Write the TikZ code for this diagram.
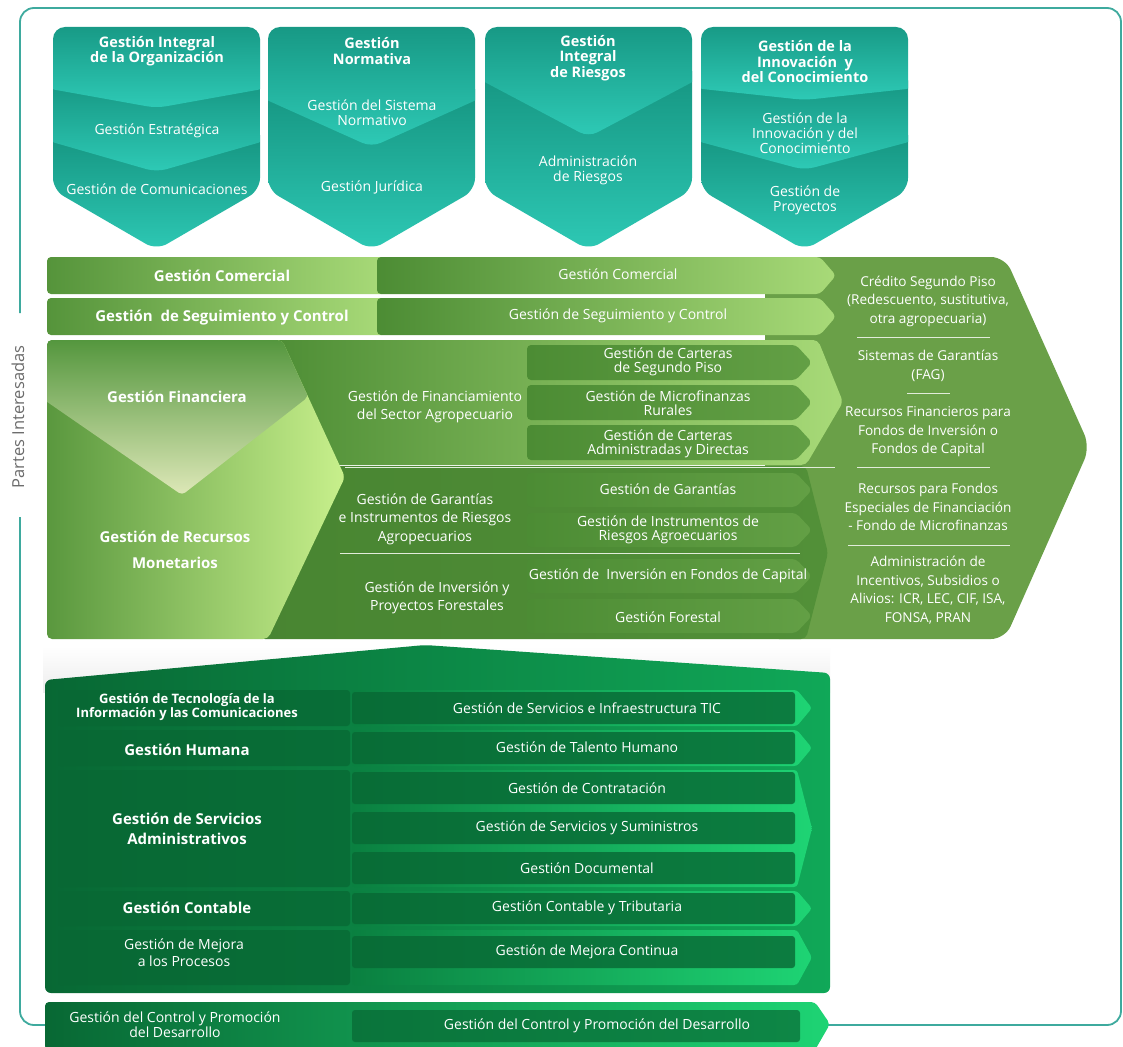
\documentclass[tikz,border=0pt]{standalone}
\usepackage{fontspec}
\setmainfont{Open Sans}
\usetikzlibrary{calc}
\definecolor{tealD}{RGB}{22,150,130}
\definecolor{tealL}{RGB}{46,202,182}
\definecolor{frameC}{RGB}{62,170,158}
\definecolor{gDark}{RGB}{76,140,52}
\definecolor{gLight}{RGB}{168,218,120}
\definecolor{gMid}{RGB}{106,160,72}
\definecolor{gPale}{RGB}{222,232,184}
\definecolor{gLime}{RGB}{200,240,140}
\definecolor{gTop}{RGB}{80,148,58}
\definecolor{sDark}{RGB}{8,104,52}
\definecolor{sBase}{RGB}{10,128,64}
\definecolor{sBright}{RGB}{30,212,116}
\definecolor{sRight}{RGB}{16,168,88}
\newcommand\topbx[2]{%
  \pgfmathsetmacro\xa{#1}\pgfmathsetmacro\xb{#1+207}\pgfmathsetmacro\xm{#1+103.5}%
  \begin{scope}
    \clip[rounded corners=12pt] (\xa,27) -- (\xb,27) -- (\xb,190) -- (\xm,250) -- (\xa,190) -- cycle;
    #2
  \end{scope}}
\newcommand\tbsec[3]{\shade[top color=tealD, bottom color=tealL, rounded corners=10pt] (\xa-8,#1) -- (\xb+8,#1) -- (\xb+8,#2) -- (\xm,#3) -- (\xa-8,#2) -- cycle;}
\newcommand\tbrest[1]{\shade[top color=tealD, bottom color=tealL] (\xa-8,#1) rectangle (\xb+8,255);}
\newcommand\fbx[2]{\shade[left color=gDark, right color=gDark!75!gLight, rounded corners=4pt] (527,#1) -- (796,#1) -- (812,{(#1+#2)/2}) -- (796,#2) -- (527,#2) -- cycle;}
\newcommand\sarrow[2]{\shade[left color=sBase, right color=sBright, rounded corners=3pt] (352,#1) -- (797,#1) -- (812,{(#1+#2)/2}) -- (797,#2) -- (352,#2) -- cycle;}
\newcommand\sdbox[2]{\fill[sDark, opacity=0.8, rounded corners=3pt] (352,#1) rectangle (795,#2);}
\newcommand\slbox[2]{\fill[sDark, opacity=0.75, rounded corners=3pt] (58,#1) rectangle (350,#2);}
\tikzset{
  ttl/.style={text=white, align=center, inner sep=0pt, font=\bfseries\fontsize{14.5}{15.5}\selectfont},
  tsub/.style={text=white, align=center, inner sep=0pt, font=\fontsize{14}{15}\selectfont},
  bl/.style={text=white, align=center, inner sep=0pt, font=\bfseries\fontsize{15}{20}\selectfont},
  rg/.style={text=white, align=center, inner sep=0pt, font=\fontsize{14}{14.5}\selectfont},
  mid/.style={text=white, align=center, inner sep=0pt, font=\fontsize{14}{18.5}\selectfont},
  big/.style={text=white, align=center, inner sep=0pt, font=\fontsize{13.6}{18.5}\selectfont},
  sep/.style={white!80!gMid, line width=0.8pt}
}
\begin{document}
\begin{tikzpicture}[x=1pt,y=-1pt]
\useasboundingbox (0,0) rectangle (1123,1046);
\fill[white] (0,0) rectangle (1123,1046);

% outer frame
\draw[frameC, line width=1.8pt, rounded corners=14pt] (20,517) -- (20,1025) -- (1121,1025) -- (1121,8) -- (20,8) -- (20,313);
\node[rotate=90, text=gray!85!black, inner sep=0pt, font=\fontsize{16.5}{18}\selectfont] (pi) at (18,417) {Partes Interesadas};

% ---------- top boxes ----------
\topbx{53}{\tbrest{135}\tbsec{80}{140}{172}\tbsec{20}{88}{108}}
\topbx{268}{\tbrest{90}\tbsec{20}{97}{147}}
\topbx{485}{\tbrest{72}\tbsec{20}{78}{137}}
\topbx{701}{\tbrest{135}\tbsec{80}{140}{170}\tbsec{20}{88}{100}}

\node[ttl] (t1) at (157,51) {Gestión Integral\\de la Organización};
\node[tsub] (t1a) at (157,131) {Gestión Estratégica};
\node[tsub] (t1b) at (157,189) {Gestión de Comunicaciones};
\node[ttl] (t2) at (372,51) {Gestión\\Normativa};
\node[tsub] (t2a) at (372,113) {Gestión del Sistema\\Normativo};
\node[tsub] (t2b) at (372,187) {Gestión Jurídica};
\node[ttl] (t3) at (588,58) {Gestión\\Integral\\de Riesgos};
\node[tsub] (t3a) at (588,170) {Administración\\de Riesgos};
\node[ttl] (t4) at (805,62) {Gestión de la\\Innovación \ y\\del Conocimiento};
\node[tsub] (t4a) at (805,133) {Gestión de la\\Innovación y del\\Conocimiento};
\node[tsub] (t4b) at (805,200) {Gestión de\\Proyectos};

% ---------- misional block ----------
\fill[gMid, rounded corners=14pt] (765,257) -- (1005,257) -- (1090,447) -- (1005,639) -- (765,639) -- cycle;
\shade[left color=gDark!90!gLight, right color=gLight, rounded corners=4pt] (47,257) rectangle (385,294);
\shade[left color=gDark, right color=gLight, rounded corners=4pt] (377,257) -- (820,257) -- (836,275.5) -- (820,294) -- (377,294) -- cycle;
\shade[left color=gDark!90!gLight, right color=gLight, rounded corners=4pt] (47,298) rectangle (385,335);
\shade[left color=gDark, right color=gLight, rounded corners=4pt] (377,298) -- (820,298) -- (836,316.5) -- (820,335) -- (377,335) -- cycle;
\node[bl] (gc) at (222,276) {Gestión Comercial};
\node[rg] (gcr) at (618,274) {Gestión Comercial};
\node[bl] (gs) at (222,318) {Gestión \ de Seguimiento y Control};
\node[rg] (gsr) at (618,316) {Gestión de Seguimiento y Control};

\shade[left color=gDark!95!black, right color=gDark!80!gMid, rounded corners=5pt] (260,466) -- (806,466) -- (828,553) -- (806,639) -- (260,639) -- cycle;
\shade[left color=gDark, right color=gLight, rounded corners=5pt] (260,340) -- (818,340) -- (843,402) -- (806,465) -- (260,465) -- cycle;
\draw[sep] (345,467) -- (835,467);
\draw[sep] (340,553) -- (800,553);

\shade[left color=gDark!85!gLight, right color=gLime, rounded corners=5pt] (47,340) -- (282,340) -- (345,477) -- (268,639) -- (47,639) -- cycle;
\begin{scope}
\clip[rounded corners=5pt] (47,340) -- (282,340) -- (345,477) -- (268,639) -- (47,639) -- cycle;
\shade[top color=gTop, bottom color=gPale, rounded corners=4pt] (40,335) -- (290,335) -- (308,397) -- (182,495) -- (40,397) -- cycle;
\end{scope}
\node[bl] (gf) at (177,397) {Gestión Financiera};
\node[bl, font=\bfseries\fontsize{15}{26}\selectfont] (grm) at (175,550) {Gestión de Recursos\\Monetarios};

\node[mid] (m1) at (435,407) {Gestión de Financiamiento\\del Sector Agropecuario};
\node[mid] (m2) at (425,519) {Gestión de Garantías\\e Instrumentos de Riesgos\\Agropecuarios};
\node[mid] (m3) at (437,598) {Gestión de Inversión y\\Proyectos Forestales};

\fbx{345}{380}
\fbx{385}{420}
\fbx{425}{460}
\fbx{473}{507}
\fbx{513}{547}
\fbx{559}{593}
\fbx{599}{633}
\node[rg] (f1) at (668,362) {Gestión de Carteras\\de Segundo Piso};
\node[rg] (f2) at (668,403) {Gestión de Microfinanzas\\Rurales};
\node[rg] (f3) at (668,444) {Gestión de Carteras\\Administradas y Directas};
\node[rg] (f4) at (668,489) {Gestión de Garantías};
\node[rg] (f5) at (668,530) {Gestión de Instrumentos de\\Riesgos Agroecuarios};
\node[rg] (f6) at (668,576) {Gestión de \ Inversión en Fondos de Capital};
\node[rg] (f7) at (668,617) {Gestión Forestal};

\node[big] (b1) at (928,301) {Crédito Segundo Piso\\(Redescuento, sustitutiva,\\otra agropecuaria)};
\draw[sep] (857,337) -- (990,337);
\node[big] (b2) at (928,366) {Sistemas de Garantías\\(FAG)};
\draw[sep] (907,393) -- (950,393);
\node[big] (b3) at (928,432) {Recursos Financieros para\\Fondos de Inversión o\\Fondos de Capital};
\draw[sep] (857,467) -- (990,467);
\node[big] (b4) at (928,507) {Recursos para Fondos\\Especiales de Financiación\\- Fondo de Microfinanzas};
\draw[sep] (848,545) -- (1010,545);
\node[big] (b5) at (928,590) {Administración de\\Incentivos, Subsidios o\\Alivios: ICR, LEC, CIF, ISA,\\FONSA, PRAN};

% ---------- support block ----------
\shade[top color=white, bottom color=gray!14] (43,646) rectangle (830,692);
\shade[left color=sDark, right color=sRight, rounded corners=6pt] (45,680) -- (425,645) -- (830,673) -- (830,993) -- (45,993) -- cycle;
\slbox{690}{726}
\slbox{730}{766}
\slbox{770}{887}
\slbox{891}{926}
\slbox{930}{985}
\sarrow{690}{726}
\sarrow{730}{766}
\sarrow{770}{887}
\sarrow{891}{926}
\sarrow{930}{985}
\sdbox{692}{724}
\sdbox{732}{764}
\sdbox{772}{804}
\sdbox{812}{844}
\sdbox{852}{884}
\sdbox{893}{924}
\sdbox{936}{968}

\node[text=white, align=center, inner sep=0pt, font=\bfseries\fontsize{13}{12.5}\selectfont] (s1) at (187,707) {Gestión de Tecnología de la\\Información y las Comunicaciones};
\node[bl] (s2) at (187,750) {Gestión Humana};
\node[bl] (s3) at (187,829) {Gestión de Servicios\\Administrativos};
\node[bl] (s4) at (187,908) {Gestión Contable};
\node[rg, font=\fontsize{14}{17}\selectfont] (s5) at (184,953) {Gestión de Mejora\\a los Procesos};
\node[rg] (r1) at (587,708) {Gestión de Servicios e Infraestructura TIC};
\node[rg] (r2) at (587,747) {Gestión de Talento Humano};
\node[rg] (r3) at (587,788) {Gestión de Contratación};
\node[rg] (r4) at (587,828) {Gestión de Servicios y Suministros};
\node[rg] (r5) at (587,868) {Gestión Documental};
\node[rg] (r6) at (587,908) {Gestión Contable y Tributaria};
\node[rg] (r7) at (587,952) {Gestión de Mejora Continua};

\shade[left color=sDark, right color=sBright, rounded corners=4pt] (45,1002) -- (815,1002) -- (830,1024) -- (815,1050) -- (45,1050) -- cycle;
\fill[sDark, opacity=0.7, rounded corners=3pt] (352,1010) rectangle (800,1042);
\node[rg, font=\fontsize{14}{15}\selectfont] (c1) at (175,1025) {Gestión del Control y Promoción\\del Desarrollo};
\node[rg] (c2) at (597,1026) {Gestión del Control y Promoción del Desarrollo};
\end{tikzpicture}
\end{document}
